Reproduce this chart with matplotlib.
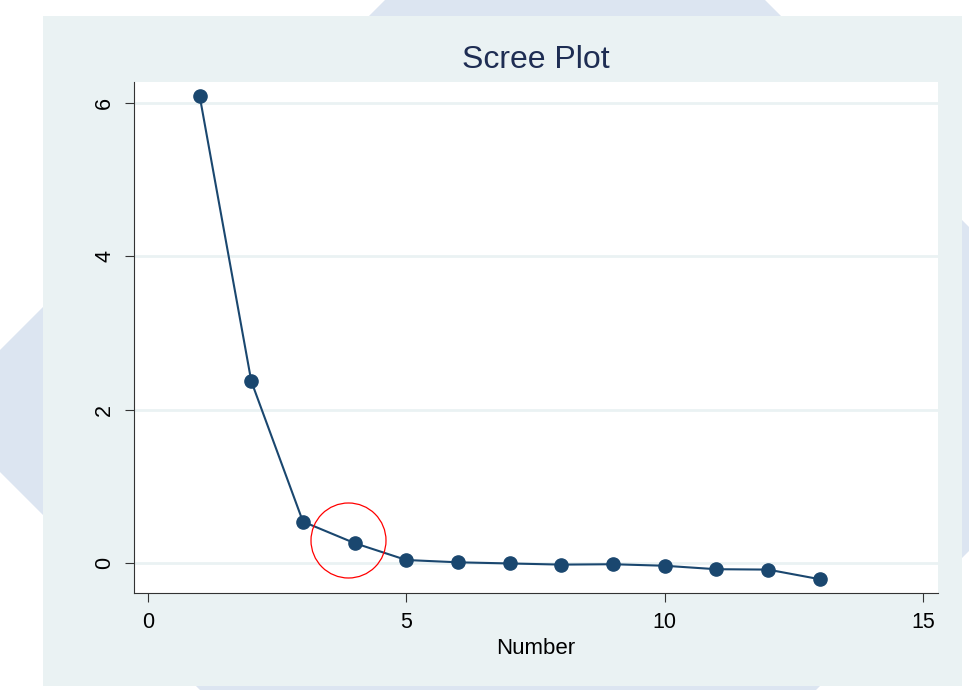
import numpy as np
import matplotlib.pyplot as plt
from matplotlib.patches import Polygon, Rectangle

plt.rcParams['font.family'] = ['Liberation Sans', 'DejaVu Sans']

# scree values
number = [1, 2, 3, 4, 5, 6, 7, 8, 9, 10, 11, 12, 13]
eigen = [6.09, 2.37, 0.54, 0.26, 0.04, 0.01, -0.005, -0.02, -0.015, -0.035, -0.08, -0.085, -0.21]
xticks = [0, 5, 10, 15]
yticks = [0, 2, 4, 6]
elbow = (3.87, 0.30)  # red circle highlight

W, H = 970, 690
fig = plt.figure(figsize=(W / 100, H / 100), dpi=100)
fig.patch.set_facecolor('white')


def px(pts):
    # pixel coords (origin top-left) -> figure fraction
    return [(x / W, 1 - y / H) for x, y in pts]


deco = '#DCE5F1'
for pts in [
    [(385, 0), (765, 0), (800, 35), (350, 35)],
    [(180, 670), (836, 670), (816, 690), (200, 690)],
    [(0, 350), (60, 290), (60, 532), (0, 472)],
    [(940, 198), (990, 248), (990, 530), (940, 580)],
]:
    fig.add_artist(Polygon(px(pts), closed=True, transform=fig.transFigure,
                           facecolor=deco, edgecolor='none', zorder=0))

# light panel
fig.add_artist(Rectangle((43 / W, 1 - 686 / H), (962 - 43) / W, (686 - 16) / H,
                         transform=fig.transFigure, facecolor='#EAF2F3',
                         edgecolor='none', zorder=1))

ax = fig.add_axes([134 / W, 1 - 593 / H, (938 - 134) / W, (593 - 82) / H])
ax.set_zorder(2)
ax.set_facecolor('white')

navy = '#1A476F'
ax.plot(number, eigen, color=navy, lw=1.5, marker='o', ms=9.5, zorder=3)
ax.plot([elbow[0]], [elbow[1]], marker='o', ms=54, mfc='none', mec='red',
        mew=0.9, ls='none', zorder=4)

ax.set_xlim(-0.27, 15.29)
ax.set_ylim(-0.39, 6.27)
ax.set_xticks(xticks)
ax.set_yticks(yticks)
ax.set_yticklabels([str(v) for v in yticks], rotation=90, va='center')
for y in yticks:
    ax.axhline(y, color='#EAF2F3', lw=2, zorder=1)

for s in ['top', 'right']:
    ax.spines[s].set_visible(False)
for s in ['left', 'bottom']:
    ax.spines[s].set_color('#333333')
    ax.spines[s].set_linewidth(0.8)
ax.tick_params(axis='both', length=6.5, width=0.8, color='#333333',
               labelsize=15.5, labelcolor='black')
ax.tick_params(axis='y', pad=7)
ax.tick_params(axis='x', pad=7)

ax.set_xlabel('Number', fontsize=16, labelpad=4)
fig.text(536 / W, 1 - 60 / H, 'Scree Plot', ha='center', va='center',
         fontsize=23, color='#1E2D53', zorder=3)

fig.savefig('out.png', dpi=100)
